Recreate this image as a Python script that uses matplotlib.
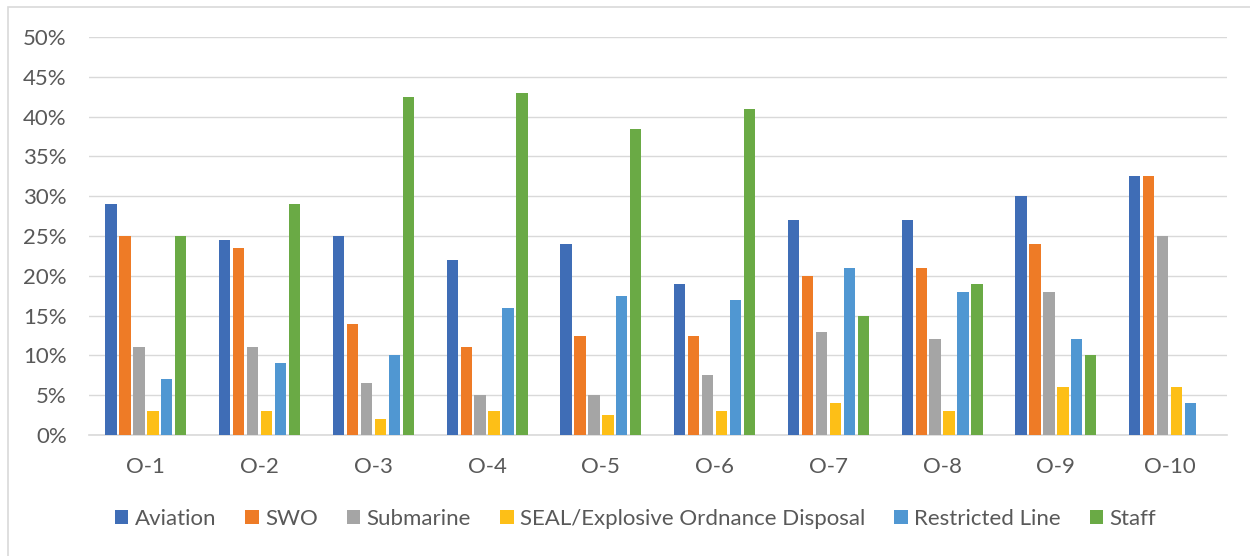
import matplotlib
matplotlib.use("Agg")
import matplotlib.pyplot as plt
import numpy as np
from matplotlib.patches import Rectangle
from matplotlib.ticker import FuncFormatter, MultipleLocator

categories = ["O-1", "O-2", "O-3", "O-4", "O-5", "O-6", "O-7", "O-8", "O-9", "O-10"]
aviation = [29, 24.5, 25, 22, 24, 19, 27, 27, 30, 32.5]
swo = [25, 23.5, 14, 11, 12.5, 12.5, 20, 21, 24, 32.5]
submarine = [11, 11, 6.5, 5, 5, 7.5, 13, 12, 18, 25]
seal_eod = [3, 3, 2, 3, 2.5, 3, 4, 3, 6, 6]
restricted_line = [7, 9, 10, 16, 17.5, 17, 21, 18, 12, 4]
staff = [25, 29, 42.5, 43, 38.4, 41, 15, 19, 10, 0]

series_names = ["Aviation", "SWO", "Submarine", "SEAL/Explosive Ordnance Disposal",
                "Restricted Line", "Staff"]
series_values = [aviation, swo, submarine, seal_eod, restricted_line, staff]
colors = ["#3F6DB6", "#EE7B26", "#A5A5A5", "#FDBF17", "#5097D2", "#6AAA45"]

plt.rcParams['font.family'] = ['Lato', 'DejaVu Sans']
text_color = "#595959"
grid_color = "#D9D9D9"
fs = 16

fig = plt.figure(figsize=(12.5, 5.56), dpi=100)
W, H = 1250, 556
ax = fig.add_axes([89 / W, 1 - 435 / H, (1226.5 - 89) / W, (435 - 37) / H])

x = np.arange(len(categories))
slot = 0.123
bw = 0.099
handles = []
for i, (name, vals, c) in enumerate(zip(series_names, series_values, colors)):
    h = ax.bar(x + (i - 2.5) * slot, vals, width=bw, color=c, label=name, zorder=3)
    handles.append(h)

ax.set_xlim(-0.5, len(categories) - 0.5)
ax.set_ylim(0, 50)
ax.yaxis.set_major_locator(MultipleLocator(5))
ax.yaxis.set_major_formatter(FuncFormatter(lambda v, p: f"{int(round(v))}%"))
ax.set_xticks(x)
ax.set_xticklabels(categories)
ax.grid(axis='y', color=grid_color, linewidth=1.0, zorder=0)
ax.set_axisbelow(True)
for s in ["top", "right", "left"]:
    ax.spines[s].set_visible(False)
ax.spines["bottom"].set_color(grid_color)
ax.spines["bottom"].set_linewidth(1.2)
ax.tick_params(axis='both', length=0, labelsize=fs, labelcolor=text_color)
ax.tick_params(axis='y', pad=16)
ax.tick_params(axis='x', pad=16)

fig.legend(handles=handles, labels=series_names, loc='center',
           bbox_to_anchor=(635.5 / W, 1 - 519 / H), ncol=6, frameon=False,
           fontsize=fs, labelcolor=text_color, handlelength=0.6, handleheight=0.6,
           handletextpad=0.28, columnspacing=1.32, borderpad=0, borderaxespad=0)

# outer chart border (left and top visible)
fig.patches.append(Rectangle((8 / W, -0.1), 1.2, 1.1 - 7 / H,
                             transform=fig.transFigure, fill=False,
                             edgecolor=grid_color, linewidth=1.2))

fig.savefig("out.png", dpi=100)
